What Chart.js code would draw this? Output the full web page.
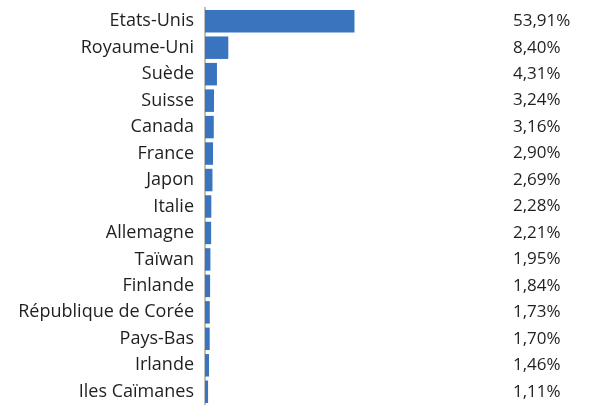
<!DOCTYPE html>
<html>
<head>
<meta charset="utf-8">
<script src="https://cdn.jsdelivr.net/npm/chart.js@4"></script>
<style>
  html, body { margin: 0; padding: 0; background: #fff; }
  #wrap { width: 596px; height: 405px; }
</style>
</head>
<body>
<div id="wrap"><canvas id="chart"></canvas></div>
<script>
    // Countries and their share (%)
    const countries = ['Etats-Unis', 'Royaume-Uni', 'Suède', 'Suisse', 'Canada', 'France', 'Japon',
        'Italie', 'Allemagne', 'Taïwan', 'Finlande', 'République de Corée', 'Pays-Bas', 'Irlande', 'Iles Caïmanes'];
    const shares = [53.91, 8.40, 4.31, 3.24, 3.16, 2.90, 2.69, 2.28, 2.21, 1.95, 1.84, 1.73, 1.70, 1.46, 1.11];
    const shareLabels = shares.map(v => v.toFixed(2).replace('.', ',') + '%');

    const nameFont = { family: '"Open Sans", Lato, sans-serif', size: 18 };
    const pctFont = { family: '"Open Sans", Lato, sans-serif', size: 17 };

    // keep the category axes from reserving half a label above and below
    function noEdgePadding(scale) {
        scale.paddingTop = 0;
        scale.paddingBottom = 0;
    }

    new Chart(document.getElementById('chart'), {
        type: 'bar',
        data: {
            labels: countries,
            datasets: [{
                data: shares,
                backgroundColor: '#3a74bf',
                categoryPercentage: 0.85,
                barPercentage: 1,
                yAxisID: 'y'
            }]
        },
        options: {
            indexAxis: 'y',
            responsive: true,
            maintainAspectRatio: false,
            animation: false,
            layout: { padding: { top: 8, bottom: 0, left: 0, right: 0 } },
            plugins: { legend: { display: false }, tooltip: { enabled: false } },
            scales: {
                x: {
                    min: 0,
                    max: 110,
                    display: false
                },
                y: {
                    type: 'category',
                    position: 'left',
                    grid: { display: false, drawTicks: false },
                    border: { display: true, color: '#bfbfbf', width: 2 },
                    ticks: { color: '#1f1f1f', font: nameFont, padding: 11, autoSkip: false },
                    afterFit(scale) { scale.width = 205; noEdgePadding(scale); }
                },
                y2: {
                    type: 'category',
                    labels: shareLabels,
                    position: 'right',
                    grid: { display: false, drawTicks: false },
                    border: { display: false },
                    ticks: { color: '#1f1f1f', font: pctFont, padding: 3, crossAlign: 'near', autoSkip: false },
                    afterFit(scale) { scale.width = 86; noEdgePadding(scale); }
                }
            }
        }
    });
</script>
</body>
</html>
